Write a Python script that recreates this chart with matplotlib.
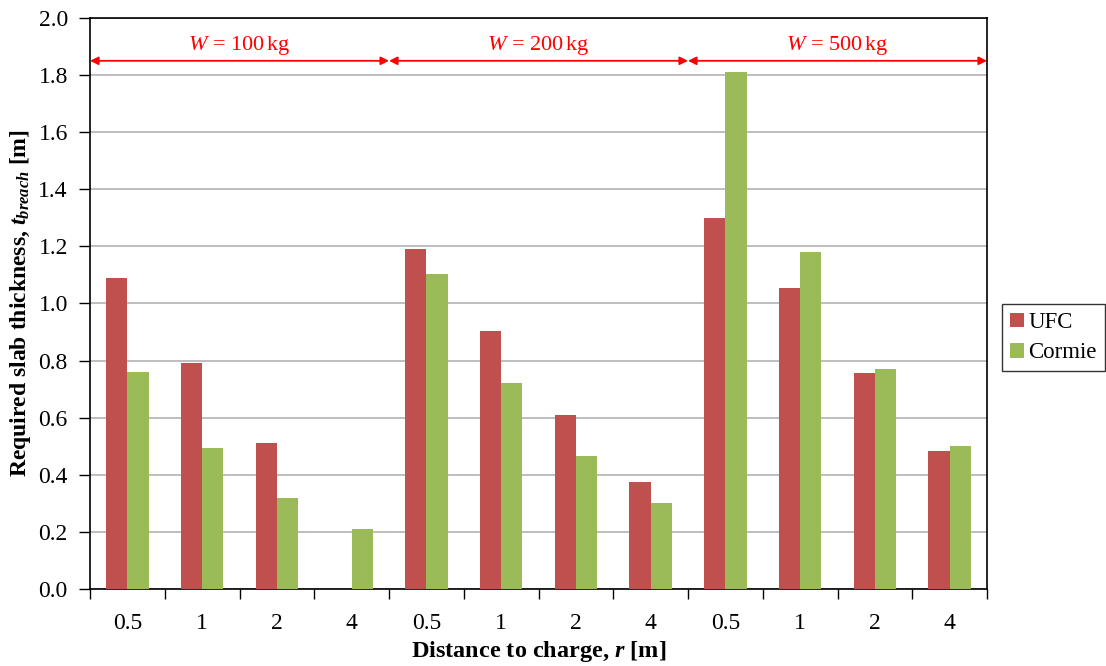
import matplotlib
matplotlib.use("Agg")
import matplotlib.pyplot as plt
import numpy as np

categories = ["0.5", "1", "2", "4", "0.5", "1", "2", "4", "0.5", "1", "2", "4"]
ufc = [1.09, 0.79, 0.51, 0.0, 1.19, 0.905, 0.61, 0.375, 1.30, 1.055, 0.755, 0.485]
cormie = [0.76, 0.495, 0.32, 0.21, 1.105, 0.72, 0.465, 0.30, 1.81, 1.18, 0.77, 0.50]
group_labels = ["100", "200", "500"]

plt.rcParams['font.family'] = ['Liberation Serif', 'DejaVu Serif']
plt.rcParams['mathtext.fontset'] = 'custom'
plt.rcParams['mathtext.rm'] = 'Liberation Serif'
plt.rcParams['mathtext.it'] = 'Liberation Serif:italic'
plt.rcParams['mathtext.bf'] = 'Liberation Serif:bold'
plt.rcParams['mathtext.bfit'] = 'Liberation Serif:italic:bold'

fig = plt.figure(figsize=(11.06, 6.66), dpi=100)
ax = fig.add_axes([0.0814, 0.1156, 0.8110, 0.8574])

x = np.arange(len(categories))
w = 0.285
ax.bar(x - w/2, ufc, w, color='#C0504D', label='UFC', zorder=3)
ax.bar(x + w/2, cormie, w, color='#9BBB59', label='Cormie', zorder=3)

ax.set_xlim(-0.5, len(categories) - 0.5)
ax.set_ylim(0, 2.0)
ax.set_yticks(np.arange(0, 2.01, 0.2))
ax.set_yticklabels([f"{v:.1f}" for v in np.arange(0, 2.01, 0.2)], fontsize=17)
ax.set_xticks(x)
ax.set_xticklabels(categories, fontsize=17)
ax.tick_params(axis='x', which='major', length=0, pad=17)
ax.set_xticks(np.arange(-0.5, len(categories), 1), minor=True)
ax.tick_params(axis='x', which='minor', length=7, direction='out', width=1)
ax.tick_params(axis='y', length=8, direction='out', width=1, pad=8)

ax.yaxis.grid(True, color='#B3B3B3', linewidth=1.2, zorder=0)
ax.set_axisbelow(True)
for s in ax.spines.values():
    s.set_color('black')
    s.set_linewidth(1.2)

ax.set_xlabel(r'Distance to charge, $\mathbfit{r}$ [m]', fontsize=17.5, fontweight='bold', labelpad=4)
ax.set_ylabel(r'Required slab thickness, $\mathbfit{t}_{\mathbfit{breach}}$ [m]', fontsize=17, fontweight='bold', labelpad=4)

for i, g in enumerate(group_labels):
    x0 = -0.5 + 4 * i
    x1 = x0 + 4
    ax.annotate('', xy=(x0, 1.85), xytext=(x1, 1.85),
                arrowprops=dict(arrowstyle='<|-|>', color='#FF0000', lw=1.3,
                                mutation_scale=12, shrinkA=0, shrinkB=0))
    ax.text((x0 + x1) / 2, 1.905, rf'$W$ = {g}$\,$kg', color='#FF0000',
            fontsize=16, ha='center', va='center')

leg = ax.legend(loc='center left', bbox_to_anchor=(1.004, 0.44), fontsize=16.5,
                frameon=True, fancybox=False, edgecolor='black',
                handlelength=0.6, handleheight=0.6, handletextpad=0.2,
                borderpad=0.35, labelspacing=0.4, borderaxespad=0.5)
leg.get_frame().set_linewidth(1.0)

fig.savefig('out.png', dpi=100)
